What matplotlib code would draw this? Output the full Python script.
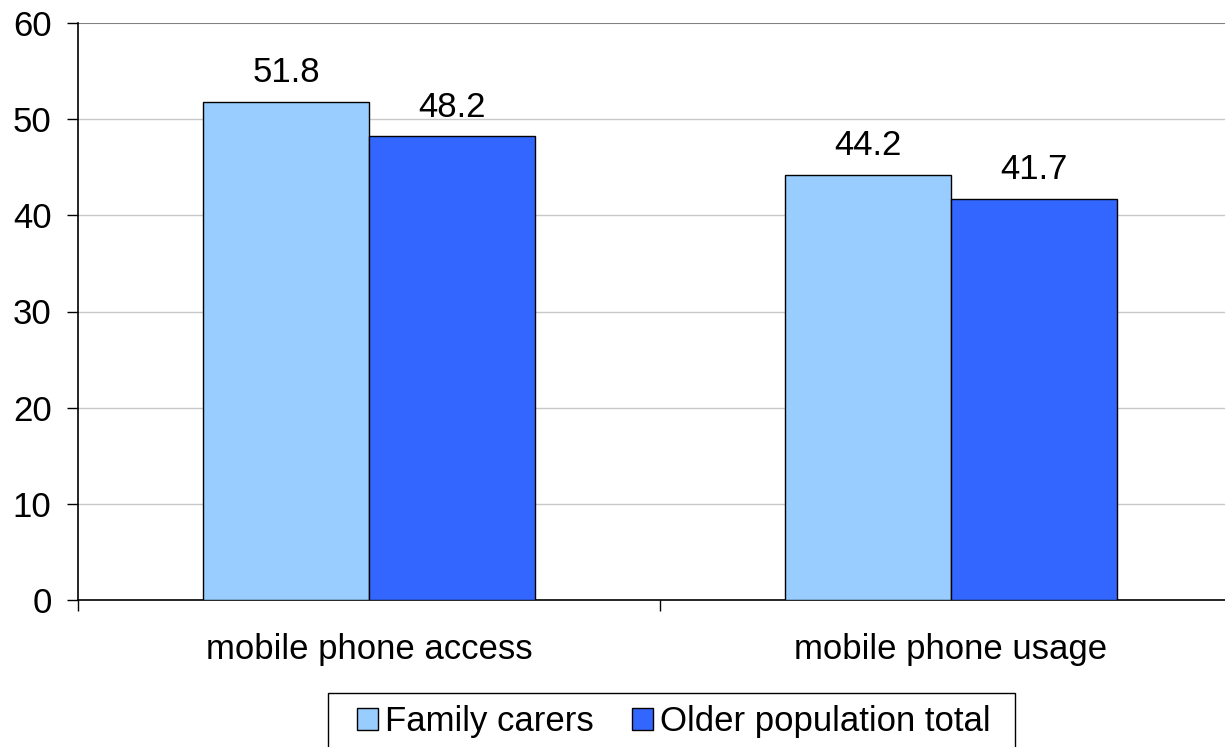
import matplotlib
matplotlib.use("Agg")
import matplotlib.pyplot as plt
from matplotlib.patches import Rectangle
import numpy as np

categories = ['mobile phone access', 'mobile phone usage']
series_names = ['Family carers', 'Older population total']
family_carers = [51.8, 44.2]
older_total = [48.2, 41.7]
colors = ['#99CCFF', '#3366FF']

plt.rcParams['font.family'] = ['Liberation Sans', 'DejaVu Sans']
FS = 25

fig = plt.figure(figsize=(12.25, 7.47), dpi=100)
W, H = 1225.0, 747.0
ax = fig.add_axes([78 / W, 1 - 600 / H, (1242 - 78) / W, (600 - 23) / H])

x = np.arange(len(categories))
w = 0.285
b1 = ax.bar(x - w / 2, family_carers, w, color=colors[0], edgecolor='black', linewidth=1, label=series_names[0], zorder=3)
b2 = ax.bar(x + w / 2, older_total, w, color=colors[1], edgecolor='black', linewidth=1, label=series_names[1], zorder=3)
for bars in (b1, b2):
    for r in bars:
        ax.annotate('%.1f' % r.get_height(), (r.get_x() + r.get_width() / 2, r.get_height()),
                    xytext=(0, 9), textcoords='offset points', ha='center', va='bottom', fontsize=FS)

ax.set_ylim(0, 60)
ax.set_xlim(-0.5, 1.5)
ax.set_yticks(range(0, 61, 10))
ax.tick_params(axis='y', labelsize=FS, length=8, width=1, pad=11)
for y in range(10, 51, 10):
    ax.axhline(y, color='#c8c8c8', linewidth=1, zorder=1)
ax.axhline(60, color='#808080', linewidth=1.5, zorder=1)

ax.set_xticks(x)
ax.set_xticklabels(categories, fontsize=FS)
ax.tick_params(axis='x', which='major', length=0, pad=24)
ax.set_xticks([-0.5, 0.5, 1.5], minor=True)
ax.tick_params(axis='x', which='minor', length=8, width=1)

for s in ['top', 'right']:
    ax.spines[s].set_visible(False)
ax.spines['left'].set_linewidth(1.2)
ax.spines['bottom'].set_linewidth(1.2)

# legend box (cut off by the bottom edge, as in the original)
fig.patches.append(Rectangle((328 / W, -0.02), (1015 - 328) / W, (747 - 693) / H + 0.02,
                             transform=fig.transFigure, facecolor='white', edgecolor='black', linewidth=1))
leg = fig.legend(handles=[b1, b2], loc='center left', bbox_to_anchor=(357 / W, 1 - 722 / H),
                 ncol=2, fontsize=FS, frameon=False,
                 handlelength=0.6, handleheight=0.6, handletextpad=0.2, columnspacing=1.1,
                 borderpad=0, borderaxespad=0)

fig.savefig('out.png', dpi=100)
